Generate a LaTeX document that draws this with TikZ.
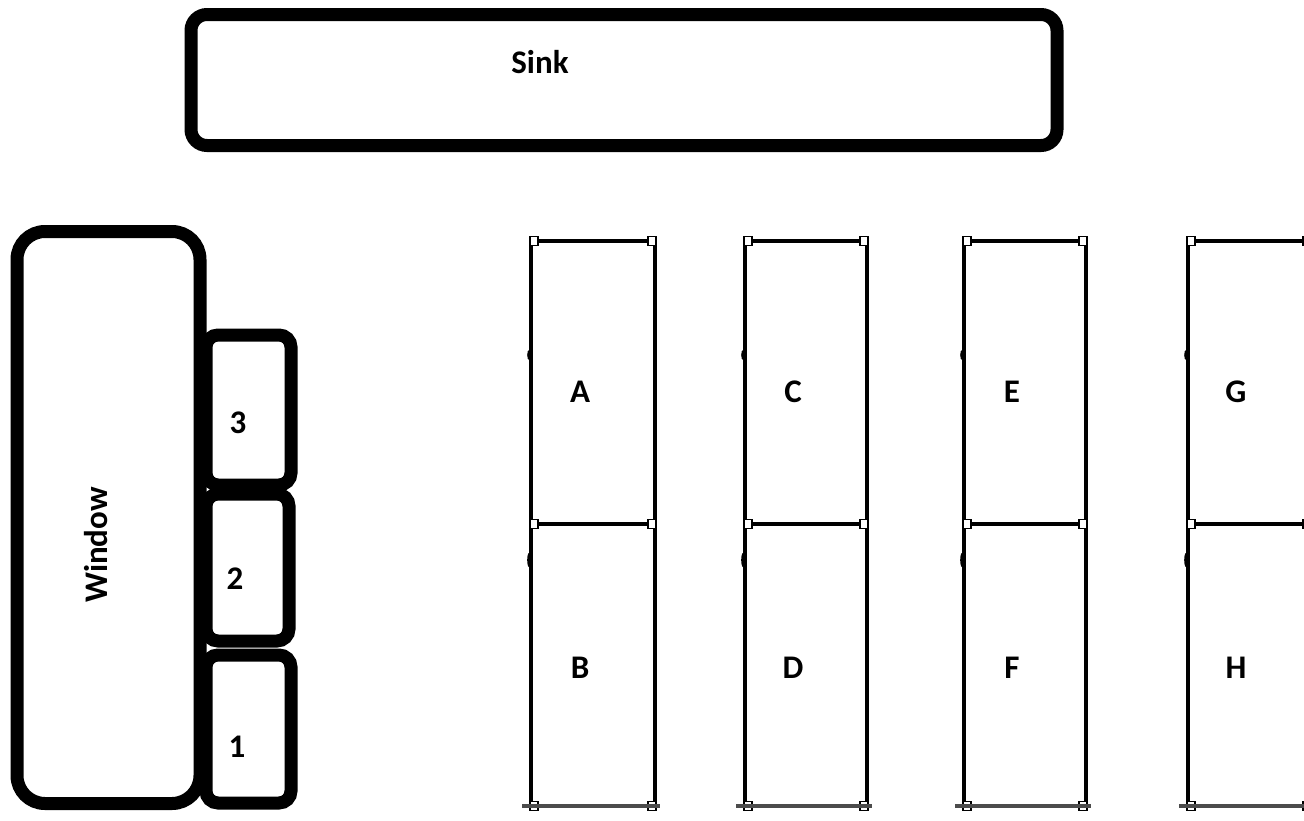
\documentclass[tikz,border=0pt]{standalone}
\usepackage{fontspec}
\setsansfont{Carlito}
\begin{document}
\begin{tikzpicture}[x=1pt,y=-1pt,
  lbl/.style={font=\sffamily\bfseries\fontsize{33}{39}\selectfont, inner sep=0pt},
  heavybox/.style={draw=black, line width=13pt, rounded corners=#1, inner sep=0pt, fill=white},
  cell/.style={draw=black, line width=3.6pt, inner sep=0pt, rectangle},
  cornersq/.style={draw=black, line width=1.8pt, fill=white}
]
\useasboundingbox (0,0) rectangle (1304,820);
\clip (0,0) rectangle (1304,820);
% sink
\node[heavybox=16pt, minimum width=866pt, minimum height=131pt] (sink) at (624,80) {};
\node[lbl] (sinklbl) at (540,62) {Sink};
% window
\node[heavybox=28pt, minimum width=183pt, minimum height=572pt] (window) at (108.5,517.5) {};
\node[lbl, rotate=90] (winlbl) at (96,545) {Window};
% numbered boxes
\node[heavybox=12pt, minimum width=85pt, minimum height=150pt] (n3) at (248.5,410) {};
\node[heavybox=12pt, minimum width=83pt, minimum height=147pt] (n2) at (247.5,567.5) {};
\node[heavybox=12pt, minimum width=85pt, minimum height=148pt] (n1) at (248.5,729) {};
\node[lbl] (l3) at (238,423) {3};
\node[lbl] (l2) at (235,579) {2};
\node[lbl] (l1) at (237,747) {1};
% tables
\foreach \xl/\xr/\top/\bot in {531/655/A/B, 745/867/C/D, 964/1086/E/F, 1188/1310/G/H}{
  \pgfmathsetmacro{\cx}{(\xl+\xr)/2}
  \pgfmathsetmacro{\w}{\xr-\xl}
  \node[cell, minimum width=\w pt, minimum height=283pt] (t\top) at (\cx,382.5) {};
  \node[cell, minimum width=\w pt, minimum height=282pt] (t\bot) at (\cx,665) {};
  \foreach \yy in {241,524,806}{
    \draw[cornersq] (\xl-1,\yy-4.5) rectangle ++(8,9);
    \draw[cornersq] (\xr-7,\yy-4.5) rectangle ++(8,9);
  }
  \fill (\xl-2,355) ellipse (1.8pt and 5pt);
  \fill (\xl-2,560) ellipse (1.8pt and 7pt);
  \draw[line width=3.5pt, black!70] (\xl-9,806) -- (\xr+5,806);
  \node[lbl] (lb\top) at (\cx-13,392) {\top};
  \node[lbl] (lb\bot) at (\cx-13,668) {\bot};
}
\end{tikzpicture}
\end{document}
